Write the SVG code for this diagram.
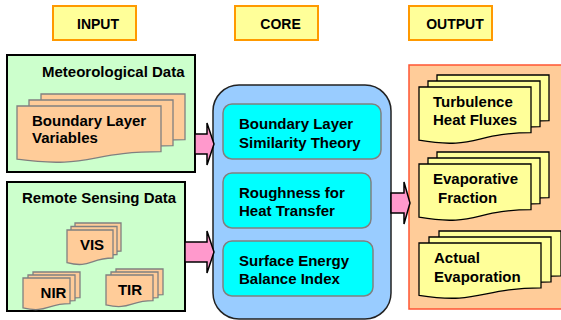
<svg xmlns="http://www.w3.org/2000/svg" width="561" height="320" viewBox="0 0 561 320">
<style>
text{font-family:"Liberation Sans",Arial,sans-serif;font-weight:bold;fill:#000;}
.hd{fill:#FFFF99;stroke:#FF9900;stroke-width:2;}
.hdt{font-size:14px;}
.t{font-size:15px;}
.grn{fill:#CCFFCC;stroke:#000;stroke-width:2;}
.odoc{fill:#FFCC99;stroke:#808080;stroke-width:1.3;}
.ydoc{fill:#FFFF99;stroke:#000;stroke-width:1.3;}
.core{fill:#99CCFF;stroke:#222;stroke-width:1.5;}
.cy{fill:#00FFFF;stroke:#808080;stroke-width:1.5;}
.out{fill:#FFCC99;stroke:#FF5533;stroke-width:1.5;}
.arr{fill:#FF99CC;stroke:#000;stroke-width:1.5;stroke-linejoin:miter;}
</style>
<defs>
<path id="d144" d="M0,0 H144 V45.7 C72,45.7 72,63.1 0,53.2 Z"/>
<path id="d46" d="M0,0 H46 V28 C23,28 23,38.7 0,32.7 Z"/>
<path id="d47" d="M0,0 H47 V25.7 C23.5,25.7 23.5,35.4 0,29.9 Z"/>
<path id="d112" d="M0,0 H112 V45.7 C56,45.7 56,63.1 0,53.2 Z"/>
<path id="d121" d="M0,0 H122 V44.9 C61,44.9 61,62 0,52.3 Z"/>
</defs>

<g id="header-input"><rect class="hd" x="53" y="6" width="83" height="34"/><text class="hdt" x="98" y="29" text-anchor="middle">INPUT</text></g>
<g id="header-core"><rect class="hd" x="235" y="6" width="83" height="34"/><text class="hdt" x="280.5" y="29" text-anchor="middle">CORE</text></g>
<g id="header-output"><rect class="hd" x="409" y="6" width="83" height="34"/><text class="hdt" x="455" y="29" text-anchor="middle">OUTPUT</text></g>

<g id="meteorological">
<rect class="grn" x="7" y="55" width="188" height="117"/>
<text class="t" x="42" y="77">Meteorological Data</text>
<g id="boundary-layer-variables">
<use href="#d144" class="odoc" x="41" y="94"/>
<use href="#d144" class="odoc" x="29" y="100"/>
<use href="#d144" class="odoc" x="17" y="106"/>
<text class="t" x="32" y="126">Boundary Layer</text>
<text class="t" x="32" y="143">Variables</text>
</g>
</g>

<g id="remote-sensing">
<rect class="grn" x="7" y="182" width="178" height="129"/>
<text class="t" x="22" y="203">Remote Sensing Data</text>
<g id="vis">
<use href="#d46" class="odoc" x="75" y="223"/>
<use href="#d46" class="odoc" x="71" y="226.5"/>
<use href="#d46" class="odoc" x="67" y="230"/>
<text class="t" x="92" y="250" text-anchor="middle">VIS</text>
</g>
<g id="nir">
<use href="#d47" class="odoc" x="33" y="272"/>
<use href="#d47" class="odoc" x="28" y="275"/>
<use href="#d47" class="odoc" x="23" y="278"/>
<text class="t" x="53.5" y="298" text-anchor="middle">NIR</text>
</g>
<g id="tir">
<use href="#d47" class="odoc" x="116" y="269"/>
<use href="#d47" class="odoc" x="111" y="272"/>
<use href="#d47" class="odoc" x="106" y="275"/>
<text class="t" x="130" y="295" text-anchor="middle">TIR</text>
</g>
</g>

<g id="core">
<rect class="core" x="213" y="85" width="178" height="234" rx="26" ry="26"/>
<g id="similarity">
<rect class="cy" x="223" y="104" width="158" height="55" rx="9"/>
<text class="t" x="239" y="129">Boundary Layer</text>
<text class="t" x="239" y="148">Similarity Theory</text>
</g>
<g id="roughness">
<rect class="cy" x="223" y="173" width="148" height="55" rx="9"/>
<text class="t" x="239" y="198">Roughness for</text>
<text class="t" x="239" y="215.5">Heat Transfer</text>
</g>
<g id="sebi">
<rect class="cy" x="223" y="241" width="150" height="55" rx="9"/>
<text class="t" x="239" y="265.5">Surface Energy</text>
<text class="t" x="239" y="284">Balance Index</text>
</g>
</g>

<g id="output">
<rect class="out" x="409" y="65" width="160" height="244"/>
<g id="turbulence">
<use href="#d112" class="ydoc" x="437" y="75"/>
<use href="#d112" class="ydoc" x="428" y="81"/>
<use href="#d112" class="ydoc" x="419" y="87"/>
<text class="t" x="433" y="107">Turbulence</text>
<text class="t" x="433" y="125">Heat Fluxes</text>
</g>
<g id="evaporative-fraction">
<use href="#d112" class="ydoc" x="437" y="152"/>
<use href="#d112" class="ydoc" x="428" y="158"/>
<use href="#d112" class="ydoc" x="419" y="164"/>
<text class="t" x="433" y="184">Evaporative</text>
<text class="t" x="438" y="203">Fraction</text>
</g>
<g id="actual-evaporation">
<use href="#d121" class="ydoc" x="439" y="231"/>
<use href="#d121" class="ydoc" x="429" y="237"/>
<use href="#d121" class="ydoc" x="419" y="243"/>
<text class="t" x="434" y="263">Actual</text>
<text class="t" x="434" y="282">Evaporation</text>
</g>
</g>

<g id="connectors">
<polygon class="arr" points="195,134 207,134 207,123 214,144 207,165 207,154 195,154"/>
<polygon class="arr" points="185,242 207,242 207,231 214,252 207,273 207,262 185,262"/>
<polygon class="arr" points="391,193 404,193 404,182 410,203 404,224 404,213 391,213"/>
</g>
</svg>
